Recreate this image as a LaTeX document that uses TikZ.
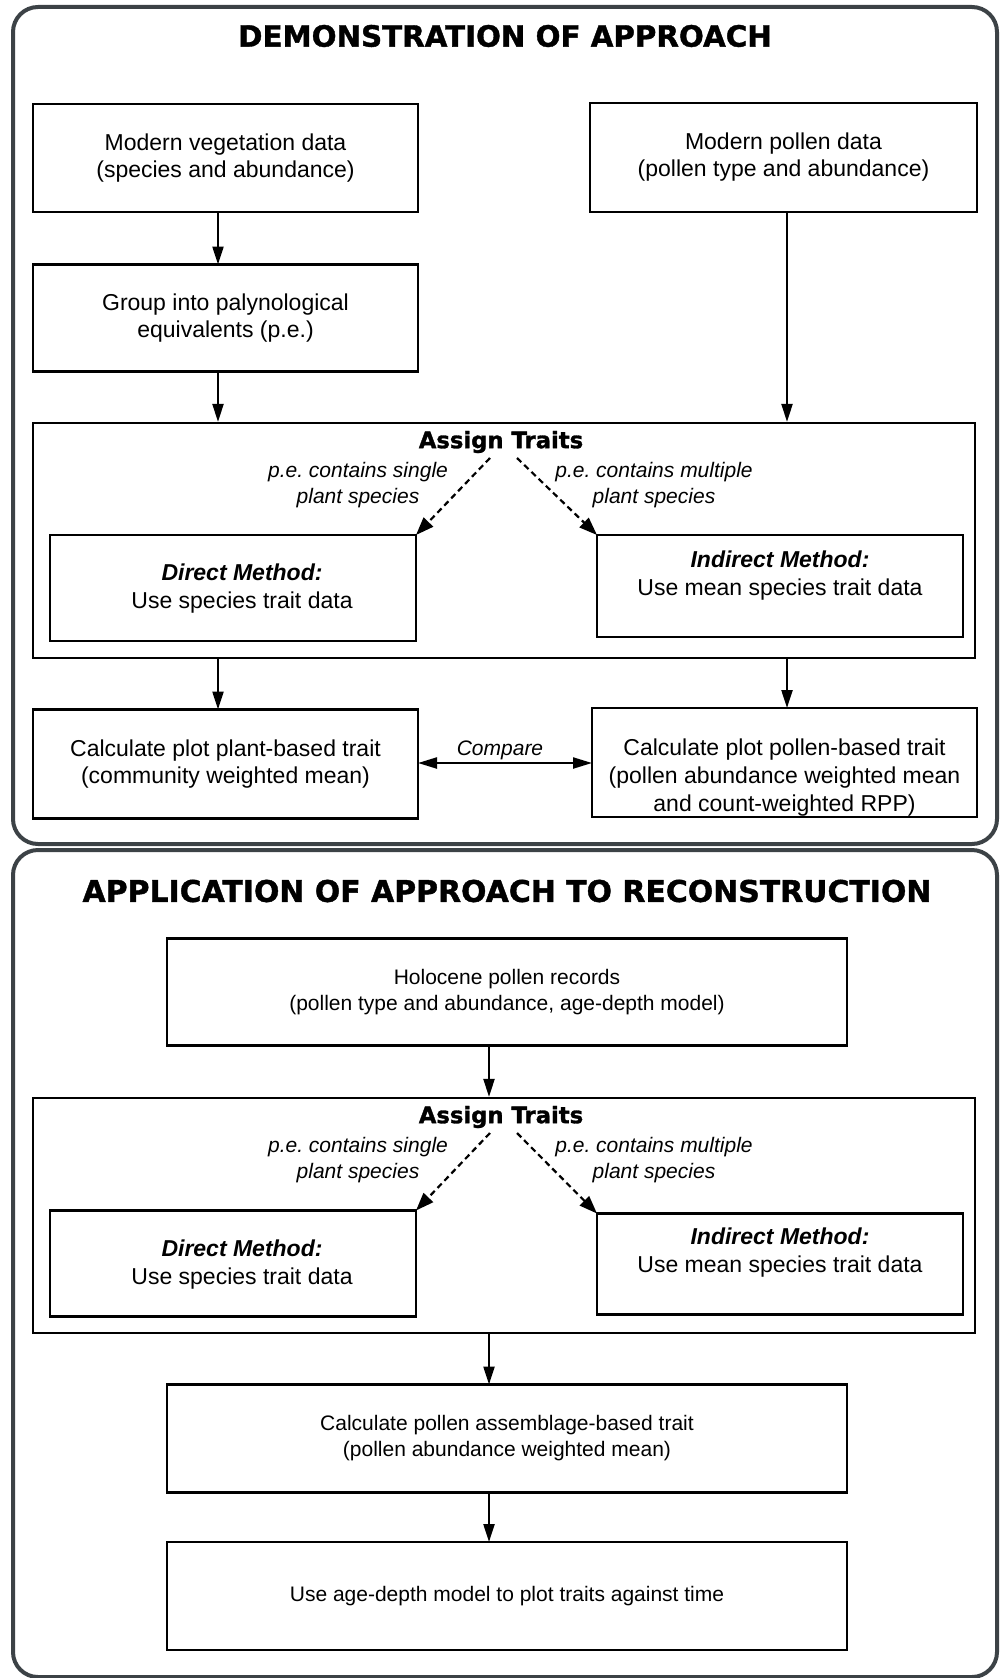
\documentclass[tikz,border=0pt]{standalone}
\usepackage{fontspec}
\setmainfont{Liberation Sans}
\newfontfamily\headfont{DejaVu Sans}[FakeBold=1.3]
\usetikzlibrary{arrows.meta}
\definecolor{panelgray}{RGB}{60,66,70}
\frenchspacing
\tikzset{
 box/.style={draw, line width=2.2pt, inner sep=0pt, outer sep=0pt, align=center, font=\fontsize{23}{27}\selectfont},
 sbox/.style={box, font=\fontsize{21}{26}\selectfont},
 btext/.style={font=\fontsize{23}{28}\selectfont, align=center, inner sep=0pt},
 arr/.style={line width=2.2pt, -{Triangle[length=18pt,width=11pt]}},
 darr/.style={line width=2.2pt, dash pattern=on 6pt off 4pt, -{Triangle[length=18pt,width=13pt]}},
 carr/.style={line width=2.2pt, {Triangle[length=19pt,width=11pt]}-{Triangle[length=19pt,width=11pt]}},
 panel/.style={draw=panelgray, line width=4pt, rounded corners=25pt},
 ttl/.style={font=\headfont\bfseries\fontsize{29.3}{34}\selectfont, inner sep=0pt},
 sub/.style={font=\headfont\bfseries\fontsize{22.7}{26}\selectfont, inner sep=0pt},
 lab/.style={font=\itshape\fontsize{21}{25.5}\selectfont, align=center, inner sep=0pt},
}
\begin{document}
\begin{tikzpicture}[x=1pt,y=-1pt]
\useasboundingbox (0,0) rectangle (1006,1678);
% panels
\draw[panel] (13,7) rectangle (997,844);
\draw[panel] (13,850) rectangle (997,1677);

% ---------- top panel ----------
\node[ttl] (t1) at (505,36) {DEMONSTRATION OF APPROACH};
\node[box, minimum width=385pt, minimum height=108pt] (a) at (225.5,158) {Modern vegetation data\\(species and abundance)};
\node[box, minimum width=387pt, minimum height=109pt] (b) at (783.5,157.5) {Modern pollen data\\(pollen type and abundance)};
\node[box, minimum width=385pt, minimum height=107pt] (c) at (225.5,318) {Group into palynological\\equivalents (p.e.)};
\node[draw, line width=2.2pt, inner sep=0pt, minimum width=942pt, minimum height=235pt] (as1) at (504,540.5) {};
\node[sub] (at1) at (501,442) {Assign Traits};
\node[lab] (l1) at (358,485) {p.e. contains single\\plant species};
\node[lab] (r1) at (654,485) {p.e. contains multiple\\plant species};
\node[box, minimum width=366pt, minimum height=106pt,
  label={[btext, xshift=9pt, yshift=-1pt]center:{\textbf{\textit{Direct Method:}}\\Use species trait data}}] (d1) at (233,588) {};
\node[box, minimum width=366pt, minimum height=102pt,
  label={[btext, yshift=10pt]center:{\textbf{\textit{Indirect Method:}}\\Use mean species trait data}}] (i1) at (780,586) {};
\node[box, minimum width=385pt, minimum height=109pt] (p1) at (225.5,764) {Calculate plot plant-based trait\\(community weighted mean)};
\node[box, minimum width=385pt, minimum height=109pt,
  label={[btext, yshift=-15pt]center:{Calculate plot pollen-based trait\\(pollen abundance weighted mean\\and count-weighted RPP)}}] (q1) at (784.5,762.5) {};
\node[lab, font=\itshape\fontsize{21}{25}\selectfont] (cmp) at (500,750) {Compare};

\coordinate (colL) at (218,0);
\coordinate (colR) at (787,0);
\coordinate (s1) at (490,458);
\coordinate (s2) at (517,458);
\draw[arr] (a.south -| colL) -- (c.north -| colL);
\draw[arr] (c.south -| colL) -- (as1.north -| colL);
\draw[arr] (b.south -| colR) -- (as1.north -| colR);
\draw[arr] (as1.south -| colL) -- (p1.north -| colL);
\draw[arr] (as1.south -| colR) -- (q1.north -| colR);
\draw[darr] (s1) -- (d1.north east);
\draw[darr] (s2) -- (i1.north west);
\draw[carr] (p1.east |- 0,763) -- (q1.west |- 0,763);

% ---------- bottom panel ----------
\node[ttl, font=\headfont\bfseries\fontsize{29.9}{34}\selectfont] (t2) at (507,891) {APPLICATION OF APPROACH TO RECONSTRUCTION};
\node[sbox, minimum width=680pt, minimum height=107pt] (h) at (507,992) {Holocene pollen records\\(pollen type and abundance, age-depth model)};
\node[draw, line width=2.2pt, inner sep=0pt, minimum width=942pt, minimum height=235pt] (as2) at (504,1215.5) {};
\node[sub] (at2) at (501,1117) {Assign Traits};
\node[lab] (l2) at (358,1160) {p.e. contains single\\plant species};
\node[lab] (r2) at (654,1160) {p.e. contains multiple\\plant species};
\node[box, minimum width=366pt, minimum height=106pt,
  label={[btext, xshift=9pt, yshift=-1.5pt]center:{\textbf{\textit{Direct Method:}}\\Use species trait data}}] (d2) at (233,1263.5) {};
\node[box, minimum width=366pt, minimum height=101pt,
  label={[btext, yshift=11pt]center:{\textbf{\textit{Indirect Method:}}\\Use mean species trait data}}] (i2) at (780,1264) {};
\node[sbox, minimum width=680pt, minimum height=108pt] (k) at (507,1438.5) {Calculate pollen assemblage-based trait\\(pollen abundance weighted mean)};
\node[sbox, minimum width=680pt, minimum height=108pt] (u) at (507,1596) {Use age-depth model to plot traits against time};

\coordinate (colM) at (489,0);
\coordinate (s3) at (490,1133);
\coordinate (s4) at (517,1133);
\draw[arr] (h.south -| colM) -- (as2.north -| colM);
\draw[arr] (as2.south -| colM) -- (k.north -| colM);
\draw[arr] (k.south -| colM) -- (u.north -| colM);
\draw[darr] (s3) -- (d2.north east);
\draw[darr] (s4) -- (i2.north west);
\end{tikzpicture}
\end{document}
